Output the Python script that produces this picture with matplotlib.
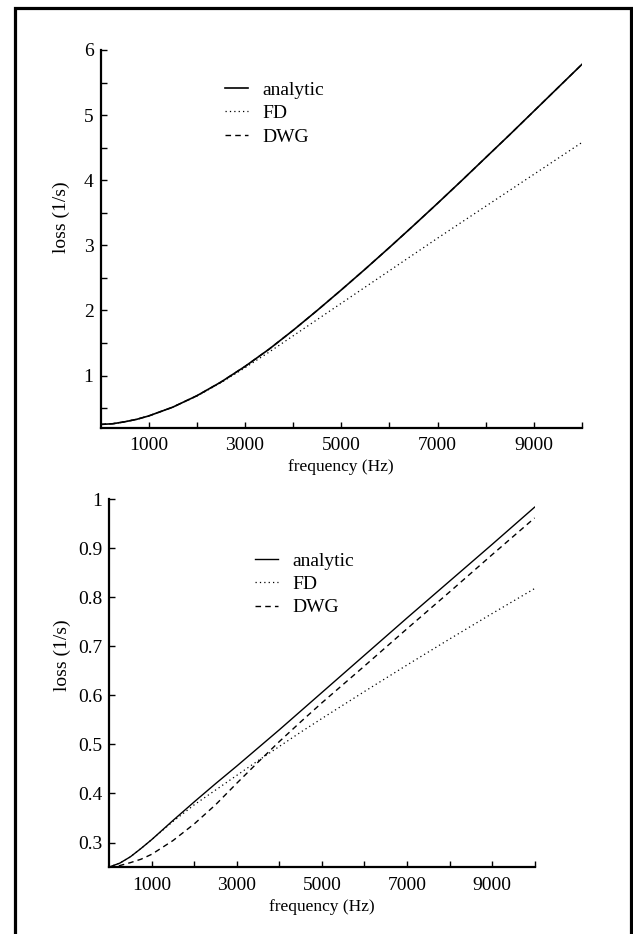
import numpy as np
import matplotlib
matplotlib.use("Agg")
import matplotlib.pyplot as plt
from matplotlib.ticker import FixedLocator, FuncFormatter
from matplotlib.patches import Rectangle

plt.rcParams['font.family'] = ['Liberation Serif', 'DejaVu Serif']
plt.rcParams['font.size'] = 14

# top panel (frequency in Hz, loss in 1/s)
top_freq = [0, 250, 500, 750, 1000, 1500, 2000, 2500, 3000, 3500, 4000, 4500, 5000,
            5500, 6000, 6500, 7000, 7500, 8000, 8500, 9000, 9500, 10000]
top_analytic = [0.25, 0.26, 0.29, 0.328, 0.38, 0.515, 0.69, 0.90, 1.14, 1.405, 1.695, 2.00, 2.315,
                2.637, 2.967, 3.303, 3.645, 3.993, 4.347, 4.70, 5.06, 5.42, 5.78]
top_fd = [0.25, 0.26, 0.29, 0.328, 0.38, 0.515, 0.685, 0.89, 1.12, 1.36, 1.61, 1.86, 2.11,
          2.36, 2.61, 2.86, 3.11, 3.355, 3.60, 3.845, 4.09, 4.335, 4.58]
top_dwg = [0.25, 0.26, 0.29, 0.328, 0.38, 0.515, 0.69, 0.90, 1.14, 1.405, 1.695, 2.00, 2.315,
           2.637, 2.967, 3.303, 3.645, 3.993, 4.347, 4.70, 5.06, 5.42, 5.78]

# bottom panel
bot_freq = [0, 250, 500, 750, 1000, 1500, 2000, 2500, 3000, 3500, 4000, 4500, 5000,
            6000, 7000, 8000, 9000, 10000]
bot_analytic = [0.250, 0.258, 0.271, 0.288, 0.306, 0.345, 0.383, 0.420, 0.456, 0.493, 0.530, 0.568, 0.606,
                0.682, 0.758, 0.833, 0.908, 0.984]
bot_fd = [0.250, 0.258, 0.271, 0.288, 0.306, 0.343, 0.377, 0.407, 0.437, 0.467, 0.496, 0.525, 0.553,
          0.608, 0.662, 0.715, 0.767, 0.818]
bot_dwg = [0.250, 0.253, 0.259, 0.266, 0.276, 0.304, 0.338, 0.377, 0.421, 0.464, 0.506, 0.546, 0.585,
           0.660, 0.736, 0.811, 0.887, 0.962]

xticks = [1000, 2000, 3000, 4000, 5000, 6000, 7000, 8000, 9000, 10000]


def odd_thousands(v, pos):
    k = int(round(v / 1000))
    return str(int(v)) if k % 2 == 1 else ""


def style_axis(ax):
    for s in ['top', 'right']:
        ax.spines[s].set_visible(False)
    for s in ['left', 'bottom']:
        ax.spines[s].set_linewidth(1.6)
    ax.tick_params(direction='in', length=4, width=1.0, labelsize=14)
    ax.tick_params(axis='x', pad=7)
    ax.tick_params(axis='y', pad=5)
    ax.xaxis.set_major_locator(FixedLocator(xticks))
    ax.xaxis.set_major_formatter(FuncFormatter(odd_thousands))
    ax.set_xlim(0, 10000)


def add_legend(ax, x, y):
    ax.legend(loc='upper left', bbox_to_anchor=(x / 633, 1 - y / 934),
              bbox_transform=fig.transFigure, frameon=False, borderpad=0,
              borderaxespad=0, handlelength=1.18, handletextpad=0.72,
              labelspacing=0.3, fontsize=14)


fig = plt.figure(figsize=(6.33, 9.34), dpi=100)

# ---- top panel ----
ax1 = fig.add_axes([0.1588, 0.5421, 0.9194 - 0.1588, 0.9465 - 0.5421])
ax1.plot(top_freq, top_analytic, color='k', lw=1.2, ls='-', label='analytic')
ax1.plot(top_freq, top_fd, color='k', lw=0.9, ls=(0, (1, 2.5)), label='FD')
ax1.plot(top_freq, top_dwg, color='k', lw=1.0, ls=(0, (4, 3)), label='DWG')
style_axis(ax1)
ax1.set_ylim(0.2, 6)
ax1.yaxis.set_major_locator(FixedLocator([0.5, 1, 1.5, 2, 2.5, 3, 3.5, 4, 4.5, 5, 5.5, 6]))
ax1.yaxis.set_major_formatter(FuncFormatter(lambda v, p: str(int(v)) if abs(v - round(v)) < 1e-6 else ""))
ax1.set_xlabel('frequency (Hz)', fontsize=12.5)
ax1.set_ylabel('loss (1/s)', fontsize=14)
ax1.xaxis.set_label_coords(0.5, -0.083)
ax1.yaxis.set_label_coords(-0.063, 0.558)
add_legend(ax1, 225, 81)

# ---- bottom panel ----
ax2 = fig.add_axes([0.1725, 0.0717, 0.8446 - 0.1725, 0.4654 - 0.0717])
ax2.plot(bot_freq, bot_analytic, color='k', lw=1.0, ls='-', label='analytic')
ax2.plot(bot_freq, bot_fd, color='k', lw=0.9, ls=(0, (1, 2.5)), label='FD')
ax2.plot(bot_freq, bot_dwg, color='k', lw=1.0, ls=(0, (4, 3)), label='DWG')
style_axis(ax2)
ax2.set_ylim(0.25, 1)
ax2.yaxis.set_major_locator(FixedLocator([0.3, 0.4, 0.5, 0.6, 0.7, 0.8, 0.9, 1.0]))
ax2.yaxis.set_major_formatter(FuncFormatter(lambda v, p: "1" if abs(v - 1) < 1e-6 else f"{v:.1f}"))
ax2.set_xlabel('frequency (Hz)', fontsize=12.5)
ax2.set_ylabel('loss (1/s)', fontsize=14)
ax2.xaxis.set_label_coords(0.5, -0.087)
ax2.yaxis.set_label_coords(-0.09, 0.577)
add_legend(ax2, 255, 552)

# outer frame (bottom edge falls off the page)
fig.add_artist(Rectangle((15 / 633, -0.05), (631 - 15) / 633, 1 - 8 / 934 + 0.05,
                         transform=fig.transFigure, fill=False, lw=2.3,
                         edgecolor='k', clip_on=False))

fig.savefig('out.png', dpi=100)
